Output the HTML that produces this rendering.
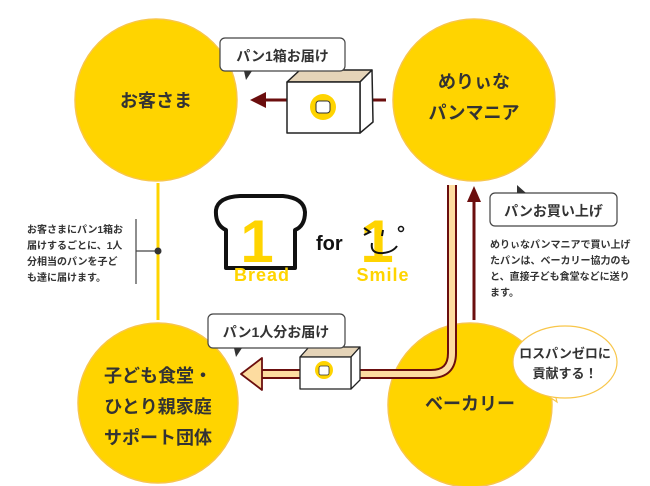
<!DOCTYPE html>
<html><head><meta charset="utf-8"><style>
html,body{margin:0;padding:0;background:#fff;width:650px;height:486px;overflow:hidden}
svg{display:block}
text{font-family:"Liberation Sans","Noto Sans CJK JP",sans-serif;fill:#333}
</style></head><body>
<svg width="650" height="486" viewBox="0 0 650 486" xmlns="http://www.w3.org/2000/svg">
<g fill="#FFD400" stroke="#F8C64A" stroke-width="1.5">
<circle cx="156" cy="100" r="81"/>
<circle cx="474" cy="100" r="81"/>
<circle cx="158" cy="403" r="80"/>
<circle cx="470" cy="405" r="82"/>
</g>
<g font-weight="bold" font-size="18" text-anchor="middle">
<text x="156" y="107">お客さま</text>
<text x="474" y="88">めりぃな</text>
<text x="474" y="119">パンマニア</text>
<text x="158" y="382">子ども食堂・</text>
<text x="158" y="413">ひとり親家庭</text>
<text x="158" y="444">サポート団体</text>
<text x="470" y="410">ベーカリー</text>
</g>
<line x1="158" y1="183" x2="158" y2="320" stroke="#FFD400" stroke-width="3"/>
<line x1="136" y1="219" x2="136" y2="284" stroke="#444" stroke-width="1.2"/>
<line x1="136" y1="251" x2="158" y2="251" stroke="#444" stroke-width="1.2"/>
<circle cx="158" cy="251" r="3.5" fill="#333"/>
<g font-size="10" font-weight="bold">
<text x="27" y="233">お客さまにパン1箱お</text>
<text x="27" y="249">届けするごとに、1人</text>
<text x="27" y="265">分相当のパンを子ど</text>
<text x="27" y="281">も達に届けます。</text>
</g>
<line x1="386" y1="100" x2="262" y2="100" stroke="#6B0E0E" stroke-width="3"/>
<polygon points="250,100 266,92 266,108" fill="#6B0E0E"/>
<g stroke="#222" stroke-width="1.5" stroke-linejoin="round">
<polygon points="287,82 300,70 372,70 360,82" fill="#E5D4B8"/>
<polygon points="360,82 372,70 373,122 360,133" fill="#fff"/>
<rect x="287" y="82" width="73" height="51" fill="#fff"/>
</g>
<circle cx="323" cy="107" r="13" fill="#FFD400"/>
<rect x="316" y="101" width="14" height="12" rx="3" fill="#fff" stroke="#333" stroke-width="1"/>
<rect x="220" y="38" width="125" height="33" rx="5" fill="#fff" stroke="#444" stroke-width="1.2"/>
<polygon points="244,71 252,71 246,80" fill="#333"/>
<text x="282.5" y="61" font-size="14" font-weight="bold" text-anchor="middle">パン1箱お届け</text>
<!-- double arrow -->
<path d="M452,185 V353 Q452,374 431,374 H258" fill="none" stroke="#6B0E0E" stroke-width="10"/>
<path d="M452,185 V353 Q452,374 431,374 H256" fill="none" stroke="#FDDCA0" stroke-width="6"/>
<polygon points="241,374 262,358 262,390" fill="#FDDCA0" stroke="#6B0E0E" stroke-width="1.8" stroke-linejoin="round"/>
<line x1="474" y1="320" x2="474" y2="200" stroke="#6B0E0E" stroke-width="3"/>
<polygon points="474,186 467,202 481,202" fill="#6B0E0E"/>
<g stroke="#222" stroke-width="1.3" stroke-linejoin="round">
<polygon points="300,357 309,347 360,347 351,357" fill="#E5D4B8"/>
<polygon points="351,357 360,347 360,380 351,389" fill="#fff"/>
<rect x="300" y="357" width="51" height="32" fill="#fff"/>
</g>
<circle cx="324" cy="370" r="9" fill="#FFD400"/>
<rect x="319" y="366" width="10" height="9" rx="2" fill="#fff" stroke="#333" stroke-width="0.8"/>
<rect x="208" y="314" width="137" height="34" rx="5" fill="#fff" stroke="#444" stroke-width="1.2"/>
<polygon points="234,348 242,348 236,357" fill="#333"/>
<text x="276" y="337" font-size="14" font-weight="bold" text-anchor="middle">パン1人分お届け</text>
<rect x="490" y="193" width="127" height="33" rx="5" fill="#fff" stroke="#444" stroke-width="1.2"/>
<polygon points="517,193 526,193 517,185" fill="#333"/>
<text x="553.5" y="216" font-size="14" font-weight="bold" text-anchor="middle">パンお買い上げ</text>
<g font-size="10" font-weight="bold">
<text x="490" y="248">めりぃなパンマニアで買い上げ</text>
<text x="490" y="264">たパンは、ベーカリー協力のも</text>
<text x="490" y="280">と、直接子ども食堂などに送り</text>
<text x="490" y="296">ます。</text>
</g>
<path d="M548,396 L557,402 L556,398" fill="#fff" stroke="#F8C64A" stroke-width="1.2"/>
<ellipse cx="565" cy="362" rx="52" ry="36" fill="#fff" stroke="#F8C64A" stroke-width="1.2"/>
<text x="565" y="358" font-size="13" font-weight="bold" text-anchor="middle">ロスパンゼロに</text>
<text x="565" y="378" font-size="13" font-weight="bold" text-anchor="middle">貢献する！</text>
<path d="M226,268 V230 Q215,225 216,210 Q218,197 240,196 H283 Q304,198 305,212 Q305,226 295,230 V268 Z" fill="none" stroke="#111" stroke-width="4" stroke-linejoin="round"/>
<text x="257" y="262" font-size="60" font-weight="bold" text-anchor="middle" style="fill:#FFD400">1</text>
<text x="262" y="281" font-size="18" font-weight="bold" text-anchor="middle" letter-spacing="1" style="fill:#FFD400">Bread</text>
<text x="316" y="250" font-size="20" font-weight="bold" style="fill:#111">for</text>
<text x="377" y="262" font-size="60" font-weight="bold" text-anchor="middle" style="fill:#FFD400">1</text>
<text x="383" y="281" font-size="18" font-weight="bold" text-anchor="middle" letter-spacing="1" style="fill:#FFD400">Smile</text>
<path d="M364,228 L370,232 L364,235" fill="none" stroke="#111" stroke-width="2"/>
<path d="M383,230 L382,236" stroke="#111" stroke-width="2"/>
<circle cx="401" cy="229" r="2.5" fill="none" stroke="#111" stroke-width="1.5"/>
<path d="M372,243 Q370,254 383,253 Q393,252 397,246" fill="none" stroke="#111" stroke-width="2"/>
</svg>
</body></html>
